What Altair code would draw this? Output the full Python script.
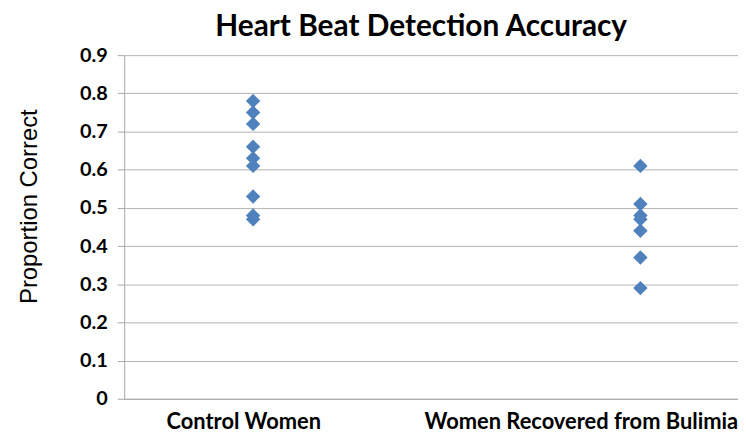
import altair as alt
import pandas as pd

groups = ["Control Women", "Women Recovered from Bulimia"]
group_pos = [0.21, 0.841]          # horizontal position of each group's points
label_pos = [0.194, 0.744]         # horizontal position of each category label
control = [0.78, 0.75, 0.72, 0.66, 0.63, 0.61, 0.53, 0.48, 0.47]
bulimia = [0.61, 0.51, 0.48, 0.47, 0.44, 0.37, 0.29]
y_ticks = [0, 0.1, 0.2, 0.3, 0.4, 0.5, 0.6, 0.7, 0.8, 0.9]

rows = [{"group": groups[0], "x": group_pos[0], "value": v} for v in control] + \
       [{"group": groups[1], "x": group_pos[1], "value": v} for v in bulimia]
df = pd.DataFrame(rows)

label_expr = (f"datum.value < 0.5 ? '{groups[0]}' : '{groups[1]}'")

chart = alt.Chart(df).mark_point(
    shape="diamond", filled=True, size=210, color="#4F81BD", opacity=1
).encode(
    x=alt.X("x:Q", scale=alt.Scale(domain=[0, 1], nice=False, zero=False),
            axis=alt.Axis(values=label_pos, labelExpr=label_expr, title=None,
                          grid=False, ticks=False, domain=True,
                          domainColor="#a6a6a6", labelFont="Lato",
                          labelFontWeight="bold", labelFontSize=22,
                          labelColor="#000000", labelPadding=13,
                          labelFlush=False, labelOverlap=False, labelLimit=0)),
    y=alt.Y("value:Q", scale=alt.Scale(domain=[0, 0.9], nice=False),
            axis=alt.Axis(values=y_ticks, format="~g", title="Proportion Correct",
                          grid=True, gridColor="#b3b3b3", gridWidth=1,
                          domainColor="#a6a6a6", tickColor="#a6a6a6", tickSize=7,
                          labelFont="Lato", labelFontWeight="bold", labelFontSize=20,
                          labelColor="#000000", labelPadding=10,
                          titleFont="Liberation Sans", titleFontWeight="normal",
                          titleFontSize=24, titleColor="#000000", titlePadding=38,
                          titleY=152)),
).properties(
    width=618, height=346,
    title=alt.TitleParams("Heart Beat Detection Accuracy", font="Lato",
                          fontSize=30, fontWeight="bold", color="#000000",
                          anchor="middle", dx=-10, offset=3),
    autosize=alt.AutoSizeParams(type="none"),
    padding={"left": 117, "top": 46, "right": 0, "bottom": 40},
).configure_view(stroke=None)

chart.save("out.html", embed_options={"renderer": "svg", "actions": False})
